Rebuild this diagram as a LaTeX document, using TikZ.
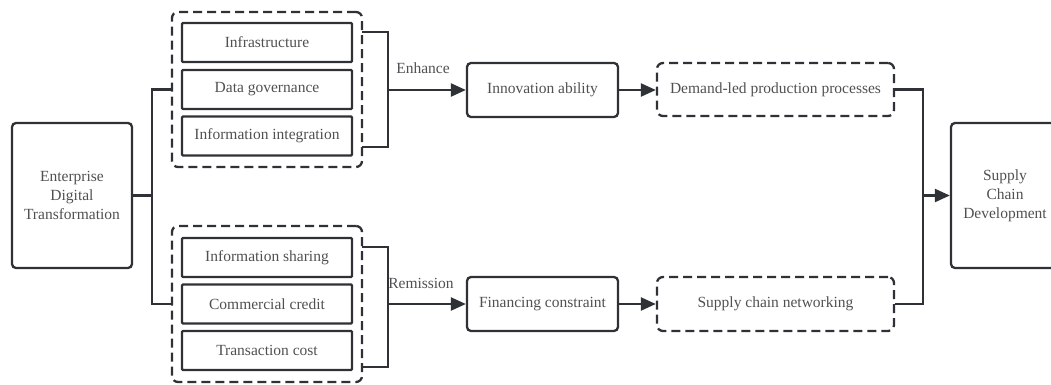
\documentclass[tikz,border=0pt]{standalone}
\usepackage{fontspec}
\setmainfont{Liberation Serif}
\usetikzlibrary{arrows.meta}
\definecolor{ln}{HTML}{2E3135}
\definecolor{tx}{HTML}{505050}
\tikzset{
  base/.style={draw=ln, line width=2.3pt, text=tx, align=center, inner sep=0pt,
    font=\fontsize{15.5}{19}\selectfont},
  bigbox/.style={base, rounded corners=4pt},
  itembox/.style={base, rounded corners=1pt, minimum width=170pt, minimum height=39pt},
  midbox/.style={base, rounded corners=4pt, minimum width=151pt, minimum height=54pt},
  dashbox/.style={base, rounded corners=6pt, dash pattern=on 9pt off 5pt},
  conn/.style={draw=ln, line width=2.3pt},
  arr/.style={conn, -{Triangle[length=15pt,width=13pt]}},
  lbl/.style={text=tx, font=\fontsize{15.5}{19}\selectfont, inner sep=0pt}
}
\begin{document}
\begin{tikzpicture}[x=1pt,y=-1pt]
\useasboundingbox (0,0) rectangle (1051,385);
% left and right boxes
\node[bigbox, minimum width=120pt, minimum height=145pt] (edt) at (72,195.5) {Enterprise\\Digital\\Transformation};
\node[bigbox, minimum width=108pt, minimum height=145pt] (scd) at (1005,195.5) {Supply\\Chain\\Development};
% groups
\node[dashbox, minimum width=190pt, minimum height=155pt] (top) at (267,89.5) {};
\node[dashbox, minimum width=190pt, minimum height=156pt] (bot) at (267,304) {};
\node[itembox] (infra) at (267,42.5) {Infrastructure};
\node[itembox] (dgov) at (267,89.5) {Data governance};
\node[itembox] (iint) at (267,136) {Information integration};
\node[itembox] (ishr) at (267,257.5) {Information sharing};
\node[itembox] (ccred) at (267,304) {Commercial credit};
\node[itembox] (tcost) at (267,350.5) {Transaction cost};
% middle boxes
\node[midbox] (innov) at (542.5,90) {Innovation ability};
\node[midbox] (fin) at (542.5,304) {Financing constraint};
\node[dashbox, minimum width=237pt, minimum height=53pt] (dem) at (775.5,89.5) {Demand-led production processes};
\node[dashbox, minimum width=237pt, minimum height=54pt] (scn) at (775.5,304) {Supply chain networking};
% labels
\node[lbl] (enh) at (423,68) {Enhance};
\node[lbl] (rem) at (421,283) {Remission};
% left fork
\coordinate (j) at (152,195.5);
\draw[conn] (edt.east) -- (j);
\draw[conn] (top.west |- dgov) -| (j);
\draw[conn] (bot.west |- ccred) -| (j);
% top bracket
\coordinate (ta) at (362,32);
\coordinate (tb) at (362,147);
\coordinate (tm) at (388,90);
\draw[conn] (ta) -| (tm) |- (tb);
\draw[arr] (tm) -- (innov.west);
% bottom bracket
\coordinate (ba) at (362,247);
\coordinate (bb) at (362,367);
\coordinate (bm) at (388,304);
\draw[conn] (ba) -| (bm) |- (bb);
\draw[arr] (bm) -- (fin.west);
% to dashed boxes
\draw[arr] (innov.east) -- (dem.west |- innov.east);
\draw[arr] (fin.east) -- (scn.west |- fin.east);
% right merge
\coordinate (k) at (923,195.5);
\draw[conn] (dem.east) -| (k);
\draw[conn] (scn.east) -| (k);
\draw[arr] (k) -- (scd.west);
\end{tikzpicture}
\end{document}
